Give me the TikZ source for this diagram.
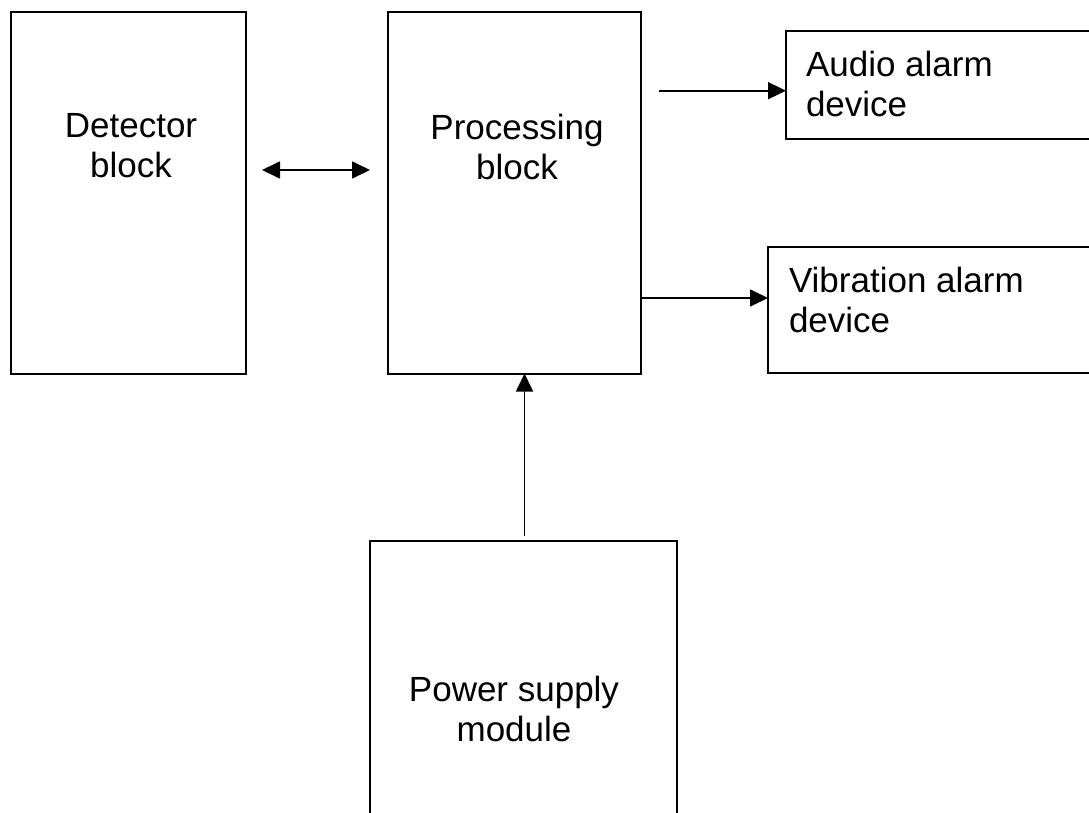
\documentclass[tikz,border=0pt]{standalone}
\usepackage{fontspec}
\setmainfont{Liberation Sans}
\usetikzlibrary{arrows.meta,calc}
\tikzset{
  box/.style={draw=black, line width=2pt, inner sep=0pt, outer sep=0pt, anchor=north west},
  lbl/.style={inner sep=0pt, outer sep=0pt, anchor=base, align=center, font=\fontsize{35}{40}\selectfont},
  lblleft/.style={lbl, align=left, anchor=base west},
  conn/.style={line width=1.7pt, -{Triangle[length=18pt,width=17pt]}},
  biconn/.style={line width=1.7pt, {Triangle[length=18pt,width=17pt]}-{Triangle[length=18pt,width=17pt]}}
}
\begin{document}
\begin{tikzpicture}[x=1pt,y=-1pt]
\path[use as bounding box] (0,0) rectangle (1089,813);
\clip (0,0) rectangle (1089,813);
\fill[white] (0,0) rectangle (1089,813);
% boxes
\node[box, minimum width=235.5pt, minimum height=361pt] (det) at (10.5,12.5) {};
\node[box, minimum width=253pt, minimum height=361pt] (proc) at (388,12.5) {};
\node[box, minimum width=314pt, minimum height=108.5pt] (aud) at (786,31) {};
\node[box, minimum width=332pt, minimum height=126pt] (vib) at (768,247) {};
\node[box, minimum width=307.5pt, minimum height=299pt] (pow) at (369.5,541) {};
% labels (base anchor = last line's baseline)
\node[lbl] (tdet) at (131,178) {Detector\\block};
\node[lbl] (tproc) at (517,179.3) {Processing\\block};
\node[lblleft] (taud) at (806,117) {Audio alarm\\device};
\node[lblleft] (tvib) at (789,332.7) {Vibration alarm\\device};
\node[lbl] (tpow) at (514,741.7) {Power supply\\module};
% connectors
\draw[biconn] ($(det.north east)+(16,157.5)$) -- ($(proc.north west)+(-18,157.5)$);
\draw[conn] ($(proc.north east)+(18,78.2)$) -- ($(aud.north west)+(0,59.7)$);
\draw[conn] ($(proc.north east)+(0,285.5)$) -- ($(vib.north west)+(0,51)$);
\draw[conn] ($(pow.north west)+(155,-5)$) -- ($(proc.south west)+(136.5,0)$);
\end{tikzpicture}
\end{document}
